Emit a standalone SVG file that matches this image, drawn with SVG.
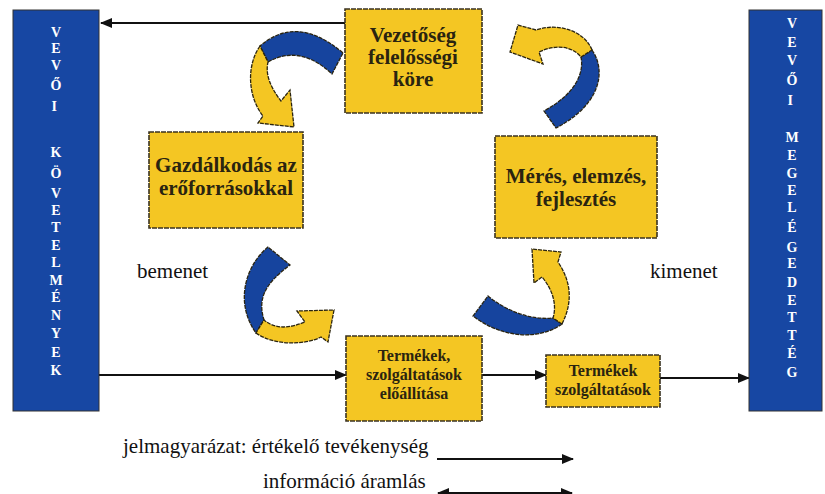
<svg xmlns="http://www.w3.org/2000/svg" width="825" height="494" viewBox="0 0 825 494">
<defs>
<marker id="ah" viewBox="0 0 12 10" refX="11" refY="5" markerWidth="12" markerHeight="10" markerUnits="userSpaceOnUse" orient="auto-start-reverse">
<path d="M0,0 L12,5 L0,10 Z" fill="#111"/>
</marker>
</defs>
<style>
text{font-family:'Liberation Serif','Times New Roman',Times,Tinos,'Noto Serif','DejaVu Serif',serif}
.bar{fill:#1747A3;stroke:#333;stroke-width:1}
.box{fill:#F4C623;stroke:#3a3220;stroke-width:1.6;stroke-dasharray:5 1}
.bt{font-weight:bold;fill:#2a2410;text-anchor:middle}
.lt{font-weight:bold;fill:#ffffff;font-size:14px;text-anchor:middle}
.nt{fill:#111;font-size:21px}
.con{stroke:#111;stroke-width:2;fill:none}
.y{fill:#F4C623;stroke:#2a2410;stroke-width:1.3;stroke-dasharray:4 1}
.b{fill:#16449E;stroke:#2a2410;stroke-width:1.3;stroke-dasharray:4 1}
</style>
<rect width="825" height="494" fill="#fff"/>

<g id="connectors">
<line class="con" x1="345" y1="23" x2="101" y2="23" marker-end="url(#ah)"/>
<line class="con" x1="99" y1="375" x2="346" y2="375" marker-end="url(#ah)"/>
<line class="con" x1="482" y1="375" x2="546" y2="375" marker-end="url(#ah)"/>
<line class="con" x1="660" y1="378" x2="749" y2="378" marker-end="url(#ah)"/>
</g>

<g id="vevoi-kovetelmenyek">
<rect class="bar" x="13" y="10" width="86" height="401"/>
<text class="lt">
<tspan x="56" y="37">V</tspan><tspan x="56" y="53">E</tspan><tspan x="56" y="70">V</tspan><tspan x="56" y="90">Ő</tspan><tspan x="56" y="111">I</tspan>
<tspan x="56" y="157">K</tspan><tspan x="56" y="178">Ö</tspan><tspan x="56" y="198">V</tspan><tspan x="56" y="215">E</tspan><tspan x="56" y="232">T</tspan><tspan x="56" y="250">E</tspan><tspan x="56" y="267">L</tspan><tspan x="56" y="285">M</tspan><tspan x="56" y="302">É</tspan><tspan x="56" y="320">N</tspan><tspan x="56" y="338">Y</tspan><tspan x="56" y="357">E</tspan><tspan x="56" y="375">K</tspan>
</text>
</g>

<g id="vevoi-megelegedettseg">
<rect class="bar" x="749" y="10" width="73" height="401"/>
<text class="lt">
<tspan x="792" y="28">V</tspan><tspan x="792" y="47">E</tspan><tspan x="792" y="65">V</tspan><tspan x="792" y="85">Ő</tspan><tspan x="792" y="105">I</tspan>
<tspan x="792" y="142">M</tspan><tspan x="792" y="160">E</tspan><tspan x="792" y="178">G</tspan><tspan x="792" y="195">E</tspan><tspan x="792" y="212">L</tspan><tspan x="792" y="232">É</tspan><tspan x="792" y="252">G</tspan><tspan x="792" y="268">E</tspan><tspan x="792" y="287">D</tspan><tspan x="792" y="305">E</tspan><tspan x="792" y="322">T</tspan><tspan x="792" y="340">T</tspan><tspan x="792" y="358">É</tspan><tspan x="792" y="377">G</tspan>
</text>
</g>

<g id="vezetoseg">
<rect class="box" x="345" y="9" width="137" height="104"/>
<text class="bt" font-size="21"><tspan x="413" y="42">Vezetőség</tspan><tspan x="413" y="64">felelősségi</tspan><tspan x="413" y="86">köre</tspan></text>
</g>

<g id="gazdalkodas">
<rect class="box" x="149" y="132" width="154" height="96"/>
<text class="bt" font-size="21"><tspan x="226" y="172">Gazdálkodás az</tspan><tspan x="226" y="195">erőforrásokkal</tspan></text>
</g>

<g id="meres">
<rect class="box" x="495" y="136" width="162" height="102"/>
<text class="bt" font-size="21"><tspan x="576" y="183">Mérés, elemzés,</tspan><tspan x="576" y="206">fejlesztés</tspan></text>
</g>

<g id="eloallitas">
<rect class="box" x="346" y="336" width="136" height="85"/>
<text class="bt" font-size="16"><tspan x="414" y="361">Termékek,</tspan><tspan x="414" y="380">szolgáltatások</tspan><tspan x="414" y="399">előállítása</tspan></text>
</g>

<g id="termekek">
<rect class="box" x="546" y="355" width="114" height="52"/>
<text class="bt" font-size="16"><tspan x="603" y="376">Termékek</tspan><tspan x="603" y="395">szolgáltatások</tspan></text>
</g>

<g id="arrow-top-left">
<path class="b" d="M343,53 Q297,14 260,46 L268,62 Q300,44 332,74 Z"/>
<path class="y" d="M260,46 C246,66 248,97 263,116 L258,123 L294,127 L290,90 L281,101 C271,88 265,75 268,62 Z"/>
</g>

<g id="arrow-top-right">
<path class="b" d="M592,50 C606,70 602,104 556,128 L544,111 C577,93 584,72 581,57 Z"/>
<path class="y" d="M592,50 C585,32 560,22 536,30 L518,25 L510,52 L543,64 L539,52 C556,44 572,46 581,57 Z"/>
</g>

<g id="arrow-bottom-left">
<path class="b" d="M268,247 C246,265 234,302 256,333 L264,320 C258,300 263,285 290,265 Z"/>
<path class="y" d="M256,333 C274,346 306,345 321,337 L328,342 L334,310 L297,311 L305,322 C290,328 276,330 264,320 Z"/>
</g>

<g id="arrow-bottom-right">
<path class="b" d="M562,324 C540,340 503,339 473,316 L488,296 C510,314 535,320 553,318 Z"/>
<path class="y" d="M562,324 C574,300 570,280 558,262 L561,252 L532,249 L534,283 L542,277 C553,290 557,305 553,318 Z"/>
</g>

<g id="labels">
<text class="nt" x="137" y="278">bemenet</text>
<text class="nt" x="650" y="278">kimenet</text>
</g>

<g id="legend">
<text class="nt" x="123" y="453">jelmagyarázat: értékelő tevékenység</text>
<line class="con" x1="437" y1="459" x2="573" y2="459" marker-end="url(#ah)"/>
<text class="nt" x="263" y="488">információ áramlás</text>
<line class="con" x1="438" y1="493" x2="572" y2="493" marker-start="url(#ah)" marker-end="url(#ah)"/>
</g>
</svg>
